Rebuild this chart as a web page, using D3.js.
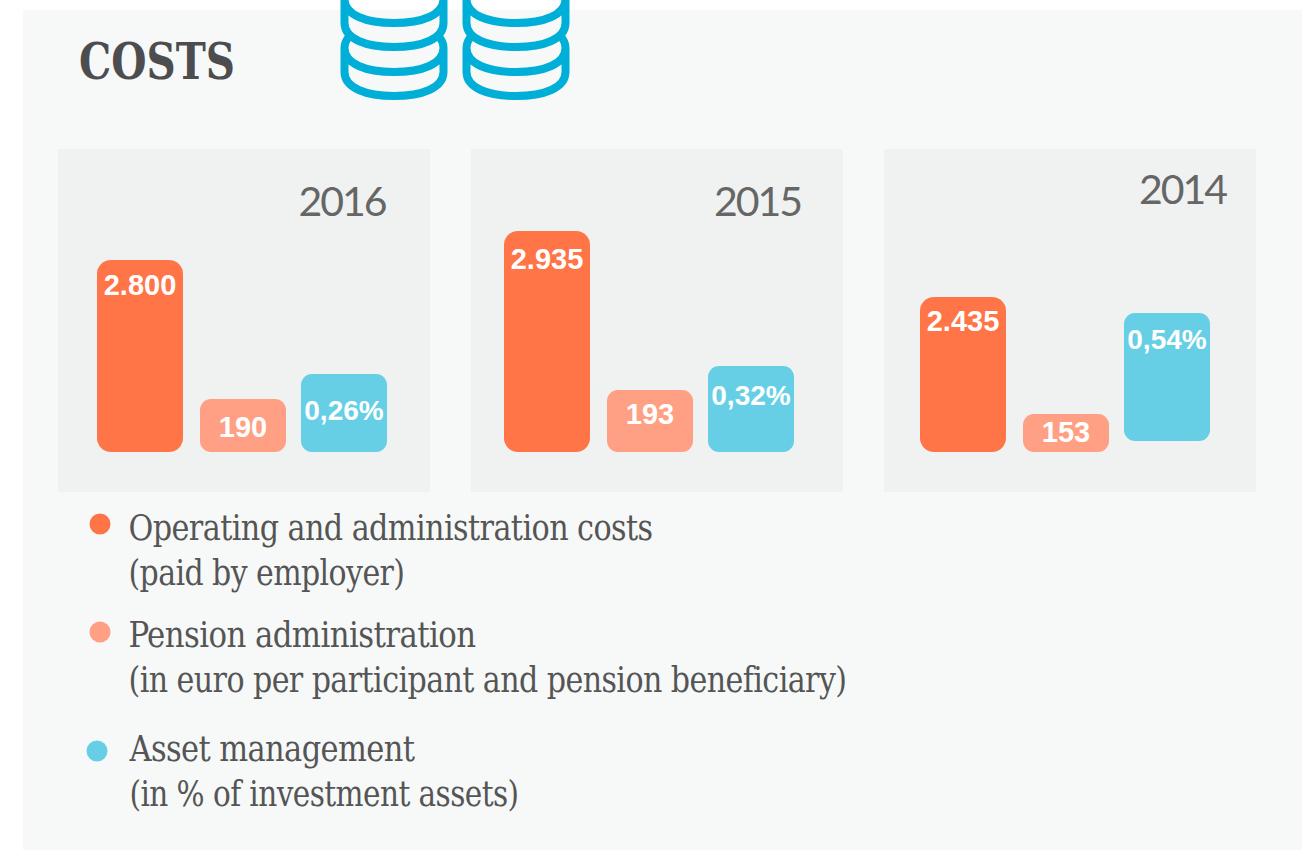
<!DOCTYPE html>
<html>
<head>
<meta charset="utf-8">
<title>Costs</title>
<script src="https://cdn.jsdelivr.net/npm/d3@7"></script>
<style>
  html, body { margin: 0; padding: 0; background: #fff; overflow: hidden; }
  svg { display: block; }
</style>
</head>
<body>
<svg id="chart" width="1302" height="850"></svg>
<script>
// values
const years = ["2016", "2015", "2014"];
const seriesKeys = ["operating", "pension", "asset"];
const operatingCosts = [2800, 2935, 2435];
const pensionAdmin = [190, 193, 153];
const assetManagement = [0.26, 0.32, 0.54];
const legendLines = [
  ["Operating and administration costs", "(paid by employer)"],
  ["Pension administration", "(in euro per participant and pension beneficiary)"],
  ["Asset management", "(in % of investment assets)"]
];

const colors = { operating: "#ff7547", pension: "#ffa084", asset: "#66cfe6" };
const seriesValues = { operating: operatingCosts, pension: pensionAdmin, asset: assetManagement };

// the bars in the original are not on one common scale, so each series gets its own
const heightScales = {
  operating: d3.scaleLinear().domain([2435, 2800, 2935]).range([155, 192, 221]),
  pension: d3.scaleLinear().domain([153, 190, 193]).range([38, 53, 62]),
  asset: d3.scaleLinear().domain([0.26, 0.32, 0.54]).range([78, 86, 128])
};

const nl = d3.formatLocale({ decimal: ",", thousands: ".", grouping: [3], currency: ["€", ""] });
const labelFormat = {
  operating: nl.format(",d"),
  pension: nl.format(",d"),
  asset: v => nl.format(".2f")(v) + "%"
};

// layout per panel
const panels = [
  { x: 58, barX: 97, yearX: 385.5, yearY: 216, base: { operating: 452, pension: 452, asset: 452 }, labelDy: { operating: 34.5, pension: 37.5, asset: 45.5 } },
  { x: 471, barX: 504, yearX: 801, yearY: 216, base: { operating: 452, pension: 452, asset: 452 }, labelDy: { operating: 37.5, pension: 33.5, asset: 38.5 } },
  { x: 884, barX: 920, yearX: 1226, yearY: 204, base: { operating: 452, pension: 452, asset: 441 }, labelDy: { operating: 33.5, pension: 27.5, asset: 35.5 } }
];

const svg = d3.select("#chart");
const slab = "'DejaVu Serif Condensed', 'DejaVu Serif', serif";

// page background
svg.append("rect").attr("x", 23).attr("y", 10).attr("width", 1279).attr("height", 840).attr("fill", "#f7f9f9");

svg.append("text")
  .attr("x", 79).attr("y", 79)
  .attr("font-family", slab).attr("font-weight", "bold").attr("font-size", 51)
  .attr("textLength", 156).attr("lengthAdjust", "spacingAndGlyphs")
  .attr("fill", "#4d4d4f")
  .text("COSTS");

// coin stacks icon
function coinPath(cx, y) {
  const hw = 49.5;
  return `M${cx - hw},${y + 24}` +
    `C${cx - hw},${y + 40} ${cx - 28},${y + 48} ${cx},${y + 48}` +
    `C${cx + 28},${y + 48} ${cx + hw},${y + 40} ${cx + hw},${y + 24}` +
    `V${y}` +
    `C${cx + hw},${y + 16} ${cx + 28},${y + 24} ${cx},${y + 24}` +
    `C${cx - 28},${y + 24} ${cx - hw},${y + 16} ${cx - hw},${y}` +
    `V${y + 24}` +
    `M${cx - hw},${y}C${cx - hw},${y - 5} ${cx - hw + 2},${y - 9} ${cx - hw + 6},${y - 13}` +
    `M${cx + hw},${y}C${cx + hw},${y - 5} ${cx + hw - 2},${y - 9} ${cx + hw - 6},${y - 13}`;
}
const icon = svg.append("g").attr("fill", "none").attr("stroke", "#00afd7").attr("stroke-width", 8);
[394, 516].forEach(cx => {
  [48, -1].forEach(y => icon.append("path").attr("d", coinPath(cx, y)));
});

// one group per year
const xBand = d3.scaleBand().domain(seriesKeys).range([0, 290]).paddingInner(16 / 102);
const barNudge = { operating: 0, pension: 1, asset: 0 }; // middle bar sits a pixel off the even spacing

const panelG = svg.selectAll("g.panel")
  .data(years)
  .join("g")
  .attr("class", "panel");

panelG.append("rect")
  .attr("x", (d, i) => panels[i].x).attr("y", 149)
  .attr("width", 372).attr("height", 343)
  .attr("fill", "#f0f2f2");

panelG.append("text")
  .attr("x", (d, i) => panels[i].yearX)
  .attr("y", (d, i) => panels[i].yearY)
  .attr("text-anchor", "end")
  .attr("font-family", "Lato, sans-serif").attr("font-size", 41)
  .attr("letter-spacing", -2)
  .attr("fill", "#666")
  .text(d => d);

panelG.each(function (year, i) {
  const p = panels[i];
  const g = d3.select(this);
  const bars = seriesKeys.map(k => ({ key: k, value: seriesValues[k][i] }));
  const barLeft = d => p.barX + xBand(d.key) + barNudge[d.key];

  g.selectAll("rect.bar")
    .data(bars)
    .join("rect")
    .attr("class", "bar")
    .attr("x", barLeft)
    .attr("y", d => p.base[d.key] - heightScales[d.key](d.value))
    .attr("width", xBand.bandwidth())
    .attr("height", d => heightScales[d.key](d.value))
    .attr("rx", d => d.key === "operating" ? 14 : 11)
    .attr("fill", d => colors[d.key]);

  g.selectAll("text.val")
    .data(bars)
    .join("text")
    .attr("class", "val")
    .attr("x", d => barLeft(d) + xBand.bandwidth() / 2)
    .attr("y", d => p.base[d.key] - heightScales[d.key](d.value) + p.labelDy[d.key])
    .attr("text-anchor", "middle")
    .attr("font-family", "'Liberation Sans', Arial, sans-serif")
    .attr("font-weight", "bold")
    .attr("font-size", d => d.key === "asset" ? 28 : 29)
    .attr("fill", "#fff")
    .text(d => labelFormat[d.key](d.value));
});

// legend
const legendPos = [
  { dotX: 100, dotY: 524, textX: 128.5, y: [540, 585], w: [524, 276] },
  { dotX: 100, dotY: 632, textX: 128.5, y: [647, 692], w: [347, 718] },
  { dotX: 97, dotY: 751, textX: 129.5, y: [761, 806], w: [285, 389] }
];

const legend = svg.selectAll("g.legend")
  .data(seriesKeys)
  .join("g")
  .attr("class", "legend");

legend.append("circle")
  .attr("cx", (d, i) => legendPos[i].dotX)
  .attr("cy", (d, i) => legendPos[i].dotY)
  .attr("r", 10.5)
  .attr("fill", d => colors[d]);

legend.each(function (key, i) {
  const pos = legendPos[i];
  d3.select(this).selectAll("text")
    .data(legendLines[i])
    .join("text")
    .attr("x", pos.textX)
    .attr("y", (d, j) => pos.y[j])
    .attr("font-family", slab).attr("font-size", 35)
    .attr("letter-spacing", -0.6)
    .attr("textLength", (d, j) => pos.w[j]).attr("lengthAdjust", "spacingAndGlyphs")
    .attr("fill", "#555")
    .text(d => d);
});
</script>
</body>
</html>
